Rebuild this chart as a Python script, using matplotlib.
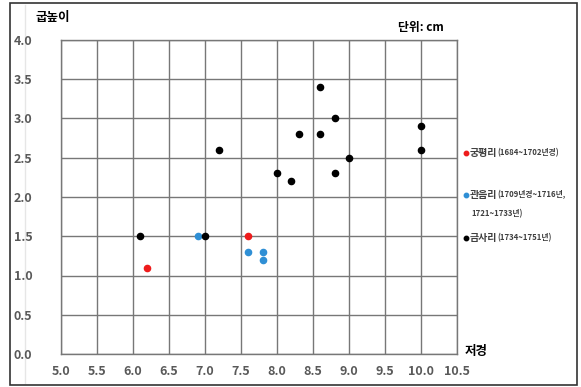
import matplotlib.pyplot as plt
from matplotlib.patches import Rectangle
from matplotlib.lines import Line2D
import numpy as np

plt.rcParams['font.family'] = ['Noto Sans CJK KR', 'DejaVu Sans']

# 데이터 (저경, 굽높이)
gp_x = [6.2, 7.6]
gp_y = [1.1, 1.5]
gy_x = [6.9, 7.6, 7.8, 7.8]
gy_y = [1.5, 1.3, 1.3, 1.2]
gs_x = [6.1, 7.0, 7.2, 8.0, 8.2, 8.3, 8.6, 8.6, 8.8, 8.8, 9.0, 10.0, 10.0]
gs_y = [1.5, 1.5, 2.6, 2.3, 2.2, 2.8, 3.4, 2.8, 3.0, 2.3, 2.5, 2.9, 2.6]

names = ['궁평리', '관음리', '금사리']
periods = ['(1684~1702년경)', '(1709년경~1716년,', '(1734~1751년)']
period2 = '1721~1733년)'
colors = ['#EE1C1C', '#2F8FD5', '#000000']

W, H = 581, 387
fig = plt.figure(figsize=(W / 100, H / 100), dpi=100)
ax = fig.add_axes([61 / W, 33 / H, 396 / W, 314 / H])

ax.scatter(gp_x, gp_y, s=20, color=colors[0], zorder=3)
ax.scatter(gy_x, gy_y, s=20, color=colors[1], zorder=3)
ax.scatter(gs_x, gs_y, s=20, color=colors[2], zorder=3)

ax.set_xlim(5.0, 10.5)
ax.set_ylim(0.0, 4.0)
xt = np.arange(5.0, 10.51, 0.5)
yt = np.arange(0.0, 4.01, 0.5)
ax.set_xticks(xt)
ax.set_yticks(yt)
ax.set_xticklabels([f'{v:.1f}' for v in xt])
ax.set_yticklabels([f'{v:.1f}' for v in yt])
ax.grid(True, color='#777777', linewidth=1.0, zorder=0)
ax.set_axisbelow(True)
for s in ax.spines.values():
    s.set_color('#777777')
    s.set_linewidth(1.0)
ax.tick_params(length=0, labelsize=9, labelcolor='#595959', pad=8)
for t in ax.get_xticklabels() + ax.get_yticklabels():
    t.set_fontweight('bold')
for t in ax.get_yticklabels():
    t.set_horizontalalignment('left')
ax.tick_params(axis='y', pad=34)

fig.text(35 / W, 1 - 18 / H, '굽높이', fontsize=9, fontweight='bold', va='center')
fig.text(398 / W, 1 - 28 / H, '단위: cm', fontsize=8.5, fontweight='bold', va='center')
fig.text(465 / W, 1 - 351 / H, '저경', fontsize=9, fontweight='bold', va='center')

# 범례
ys = [153, 195, 238]
for name, per, c, y in zip(names, periods, colors, ys):
    fig.add_artist(Line2D([466 / W], [1 - y / H], marker='o', markersize=3.2,
                          color=c, linestyle='none', transform=fig.transFigure))
    fig.text(470 / W, 1 - y / H, name, fontsize=7.2, fontweight='bold',
             color='#404040', va='center')
    fig.text(497 / W, 1 - y / H, per, fontsize=5.6, fontweight='bold',
             color='#404040', va='center')
fig.text(471 / W, 1 - 214 / H, period2, fontsize=5.6, fontweight='bold',
         color='#404040', va='center')

# 왼쪽의 옅은 세로선과 바깥 테두리
fig.add_artist(Line2D([25 / W, 25 / W], [4 / H, 1 - 5 / H], color='#e6e6e6',
                      linewidth=1.0, transform=fig.transFigure, zorder=-1))
fig.patches.append(Rectangle((10 / W, 2 / H), 567 / W, 382 / H,
                             transform=fig.transFigure, fill=False,
                             edgecolor='#333333', linewidth=1.2))

fig.savefig('out.png', dpi=100)
